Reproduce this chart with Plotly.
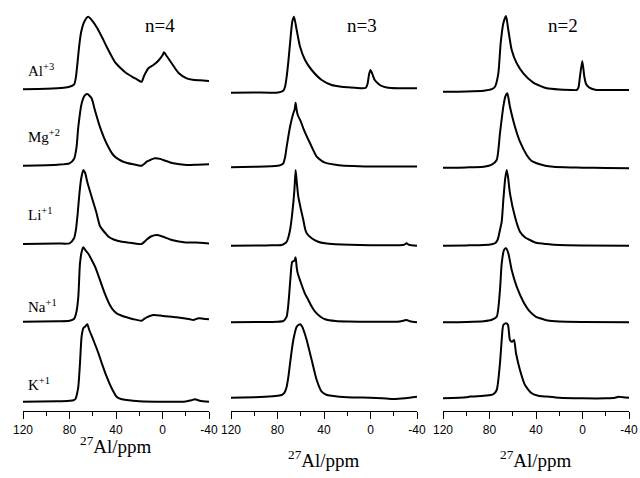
import plotly.graph_objects as go

# 27Al MAS NMR spectra: (ppm, intensity) pairs, intensity in arbitrary units
# Series n = 4
N4_AL = [(120, 0), (100, 0.5), (85, 1.5), (80, 2.5), (76, 5), (74.5, 12), (73, 28), (71.5, 45),
         (70, 57), (67.5, 67), (64, 72.5), (60, 68), (56.6, 62), (52, 52), (48, 42.5), (41, 27.5),
         (35, 20), (31, 16), (26, 12.5), (22, 10), (18, 7.5), (15.9, 13.3), (12.2, 21), (7.9, 24.3),
         (3.6, 28.6), (0, 34), (-1.3, 37), (-3.6, 33.3), (-7.9, 26), (-13.6, 16.6), (-20.8, 11),
         (-26, 9.5), (-32.3, 9), (-40, 8.3)]
N4_MG = [(120, 0), (90, 1), (80, 2.4), (76, 7), (74, 18), (72.4, 39), (69.6, 62), (67, 70),
         (64.7, 71.7), (61, 67.4), (58.2, 55.7), (53.9, 39), (48.2, 22.4), (42.4, 10.7), (38, 6.5),
         (33.8, 4), (25.2, 1.4), (18, 0), (15, 2.5), (13.6, 4), (10, 6), (6.5, 7.4), (2, 6.8),
         (-0.7, 5.7), (-9.3, 2.4), (-20.8, 0.7), (-30, 1), (-40, 1.4)]
N4_LI = [(120, 0), (90, 0.5), (80, 0.7), (76, 6), (74.5, 14), (73, 30), (71.5, 50), (70, 65),
         (68.1, 74), (66.5, 71), (64.7, 62), (60.9, 47), (57, 32), (53.8, 18), (50, 12), (46, 7),
         (42, 4.5), (38, 3), (30, 1.5), (18, 0), (14, 4), (10, 7.5), (5, 9), (0, 7.5), (-8, 4),
         (-20, 1.5), (-28, 1.5), (-40, 0.5)]
N4_NA = [(120, 0), (90, 0.5), (80, 1), (76, 3), (74, 10), (72.4, 25), (71, 58), (69.5, 70),
         (68.1, 74.4), (66, 71), (63.8, 68), (61, 62), (58, 55), (53.9, 42), (49.6, 28), (45.3, 16.7),
         (42, 11), (39.5, 8.4), (35, 6), (30.8, 4.4), (25, 2.5), (18, 1), (15.5, 3), (13.6, 4.4),
         (7.9, 6.7), (2, 6.2), (-0.7, 5.7), (-12, 4.4), (-23.7, 2.4), (-26.5, 1.7), (-31, 3.4),
         (-35, 3), (-40, 2.4)]
N4_K = [(120, 0), (90, 0.5), (80, 1), (76.5, 1.5), (74.8, 3), (73.5, 8), (72.4, 15), (71, 38),
        (69.6, 65), (68.1, 73.4), (66.7, 75), (64.7, 77.4), (63, 71.7), (59.5, 61.7), (55.1, 48.4),
        (52.2, 38.4), (48, 25), (43.7, 13.4), (39.5, 5), (35, 2.5), (30.8, 1.7), (20, 0.5), (0, 0),
        (-20, 0.3), (-25, 1.5), (-27.9, 2.4), (-32, 1), (-40, 0)]

# Series n = 3
N3_AL = [(120, 0), (100, 0.2), (79.3, 0.3), (75, 2), (73.5, 6), (72.1, 16), (70.5, 33), (69.2, 49.4),
         (67.3, 71), (65.8, 76), (63.5, 62.7), (60.6, 46), (56.3, 32.7), (50.6, 22.7), (42, 12.7),
         (33.4, 7.7), (25, 6), (19.1, 5.4), (7.6, 4.4), (4, 5), (2.5, 9), (1.3, 18), (0, 22.7),
         (-1.5, 19), (-3.5, 13), (-6.7, 9), (-10, 6.5), (-14, 5.2), (-23.9, 4.4), (-40, 4.4)]
N3_MG = [(120, 0), (100, 0.5), (80, 1.5), (77, 2.5), (75, 4), (73.5, 10), (72.1, 20.6), (69.2, 40.6),
         (66.4, 54), (65.2, 58), (64.4, 64.6), (63.5, 57), (62.6, 52.3), (60, 46), (57.8, 39),
         (52, 24), (46.3, 10.7), (42, 6.5), (39.1, 4.7), (30, 2.5), (24.8, 1.7), (10, 1), (0, 0.8),
         (-20, 0.7), (-40, 0.7)]
N3_LI = [(120, 0), (90, 0.3), (80, 0.5), (76.4, 0.7), (74, 2), (72.1, 4), (70.5, 9), (69.2, 15.7),
         (67.3, 32.4), (65.5, 55), (64.4, 75.7), (63.3, 62), (62.1, 49), (60, 37), (57.8, 25.7),
         (56.3, 17), (54.9, 12.4), (50.6, 7.4), (45, 4), (39.1, 2.4), (30, 1.5), (0, 0.5),
         (-25, 0.5), (-29, 1), (-31, 2.5), (-33, 1), (-40, 0)]
N3_NA = [(120, 0), (90, 0.3), (80, 0.5), (75, 1.3), (73.5, 3), (72.1, 5.6), (71, 14), (70.1, 25.6),
         (68.8, 45), (67.3, 60.6), (65.5, 61.5), (64.4, 65), (63.5, 55), (62.6, 49), (59.2, 37.3),
         (56.5, 29), (53.5, 22.3), (50.5, 15.5), (47.7, 10.6), (43, 5.5), (39.1, 3), (30, 1.2),
         (20, 0.7), (0, 0.5), (-25, 0.8), (-29, 1.8), (-31.1, 2.3), (-34, 1), (-40, 0)]
N3_K = [(120, 0), (100, 0.5), (90.8, 1), (80, 2), (76.4, 2.7), (74, 5), (72.1, 11), (70.5, 22),
        (69.2, 34.4), (66.4, 57.7), (63.5, 71), (61.5, 73), (60.6, 73.4), (58.7, 71), (56.8, 65),
        (54.9, 57.7), (50.6, 37.7), (46.3, 17.7), (42, 6), (38, 3), (33.4, 2), (20, 0.5), (0, 0),
        (-10, -0.5), (-20, -1.3), (-30, -0.5), (-40, 1)]

# Series n = 2
N2_AL = [(120, 0), (100, 0.3), (85, 1), (78, 2.5), (75.3, 5), (72.4, 18.4), (70.4, 48.4),
         (68.1, 68.4), (65.8, 75.7), (63.8, 61.7), (60.9, 41.7), (56.6, 28.4), (50.9, 18.4),
         (42.3, 9), (36, 5.5), (30.8, 3.4), (20, 2.2), (10, 1.8), (5, 1.7), (3.5, 4), (2.2, 15),
         (0.2, 30.7), (-1.6, 15), (-3, 8), (-5, 5), (-8, 3), (-12.2, 1.7), (-25, 1.7), (-40, 1.7)]
N2_MG = [(120, 0), (100, 0.3), (85, 1), (78, 3), (73.8, 7.7), (71, 34.4), (68.1, 61), (66.4, 71),
         (64.7, 74.4), (62.4, 61), (58.1, 41), (53.8, 26), (48, 12.7), (44, 7), (39.4, 4.4), (32, 2),
         (25.1, 1), (10, 0.3), (0, 0), (-20, -0.3), (-40, -0.5)]
N2_LI = [(120, 0), (100, 0.3), (85, 0.7), (78, 1.5), (75.3, 2.4), (73, 6), (71, 15.7), (69.5, 24),
         (68.1, 45.7), (66.5, 67), (65.2, 75.7), (64, 68), (62.4, 52.4), (58.1, 29), (53.8, 14),
         (49, 8), (45.2, 5.7), (40, 3), (30.8, 1.7), (20, 0.7), (0, 0.3), (-40, 0)]
N2_NA = [(120, 0), (100, 0.3), (85, 1), (78, 2.5), (73.8, 5.6), (71, 32.3), (69.5, 59), (67.5, 72.3),
         (65.8, 74), (63.8, 69), (60.9, 52.3), (56.6, 35.6), (50.9, 20.6), (45.2, 10.6), (40, 5.5),
         (36.6, 4), (30, 1.7), (20, 0.7), (0, 0.3), (-40, 0)]
N2_K = [(120, 0), (100, 1), (96.8, 1.7), (85, 2.5), (78, 3.5), (76.7, 4), (73.8, 8.3), (71, 35),
        (69.5, 58.3), (68.1, 73.3), (65.8, 75), (64.1, 73.3), (62.4, 58.3), (60.6, 56.6),
        (58.9, 58.3), (57.2, 45), (53.8, 28.3), (49.5, 13.3), (43.7, 5), (38, 2.5), (30.8, 1.7),
        (20, 0.5), (0, 0), (-20, 0), (-28, 0.5), (-31, 1.5), (-35, 1), (-40, 0.5)]

CATIONS = ["Al<sup>+3</sup>", "Mg<sup>+2</sup>", "Li<sup>+1</sup>", "Na<sup>+1</sup>", "K<sup>+1</sup>"]
PANEL_TITLES = ["n=4", "n=3", "n=2"]
TICK_VALUES = [120, 80, 40, 0, -40]
MINOR_TICK_VALUES = [100, 60, 20, -20]

panels = [
    [N4_AL, N4_MG, N4_LI, N4_NA, N4_K],
    [N3_AL, N3_MG, N3_LI, N3_NA, N3_K],
    [N2_AL, N2_MG, N2_LI, N2_NA, N2_K],
]

# vertical stacking offsets (baseline heights) of each spectrum, per panel
stack_offsets = [
    [321.7, 245.3, 167.0, 89.3, 9.3],
    [318.3, 243.7, 165.3, 88.7, 13.3],
    [319.3, 243.3, 165.3, 88.7, 12.7],
]

W, H = 640, 478
PLOT_BOTTOM = 411          # pixel row of the x axis lines
panel_px = [(23, 209), (231, 417), (443, 629)]

serif = "Liberation Serif, Times New Roman, serif"
sans = "Liberation Sans, Arial, sans-serif"

fig = go.Figure()

for p, spectra in enumerate(panels):
    xa = "x" if p == 0 else f"x{p + 1}"
    for spec, off in zip(spectra, stack_offsets[p]):
        ppm = [pt[0] for pt in spec]
        inten = [pt[1] + off for pt in spec]
        fig.add_trace(go.Scatter(
            x=ppm, y=inten, xaxis=xa, yaxis="y", mode="lines",
            line=dict(color="black", width=2, shape="spline", smoothing=0.6),
            showlegend=False, hoverinfo="skip",
        ))

axis_style = dict(
    range=[120, -40], showgrid=False, zeroline=False, automargin=False,
    showline=True, linecolor="black", linewidth=1.4,
    ticks="outside", ticklen=7, tickwidth=1.4, tickcolor="black",
    tickvals=TICK_VALUES, ticktext=[str(v) for v in TICK_VALUES],
    tickfont=dict(family=sans, size=12, color="black"),
    minor=dict(ticks="outside", ticklen=4, tickwidth=1.4, tickcolor="black",
               tickvals=MINOR_TICK_VALUES),
    anchor="y",
)

layout_axes = {}
for p, (a, b) in enumerate(panel_px):
    key = "xaxis" if p == 0 else f"xaxis{p + 1}"
    layout_axes[key] = dict(axis_style, domain=[a / W, b / W])


def py(px_y):
    """pixel row -> paper y coordinate"""
    return (PLOT_BOTTOM - px_y) / PLOT_BOTTOM


annotations = []
# panel titles
for title, cx in zip(PANEL_TITLES, [160, 361.5, 562.5]):
    annotations.append(dict(text=title, x=cx / W, y=py(25), xref="paper", yref="paper",
                            xanchor="center", yanchor="middle", showarrow=False,
                            font=dict(family=serif, size=19, color="black")))
# cation labels
for label, cy in zip(CATIONS, [70, 136, 214, 306, 384]):
    annotations.append(dict(text=label, x=26 / W, y=py(cy), xref="paper", yref="paper",
                            xanchor="left", yanchor="middle", showarrow=False,
                            font=dict(family=serif, size=15, color="black")))
# x axis titles
for (a, b), cy in zip(panel_px, [445, 459, 459]):
    annotations.append(dict(text="<sup>27</sup>Al/ppm", x=(a + b) / 2 / W, y=py(cy),
                            xref="paper", yref="paper", xanchor="center", yanchor="middle",
                            showarrow=False, font=dict(family=serif, size=19, color="black")))

fig.update_layout(
    template="none",
    width=W, height=H,
    margin=dict(l=0, r=0, t=0, b=H - PLOT_BOTTOM, autoexpand=False),
    paper_bgcolor="white", plot_bgcolor="white",
    yaxis=dict(range=[0, PLOT_BOTTOM], visible=False, fixedrange=True, domain=[0, 1],
               automargin=False),
    annotations=annotations,
    **layout_axes,
)

fig.write_html("out.html")
